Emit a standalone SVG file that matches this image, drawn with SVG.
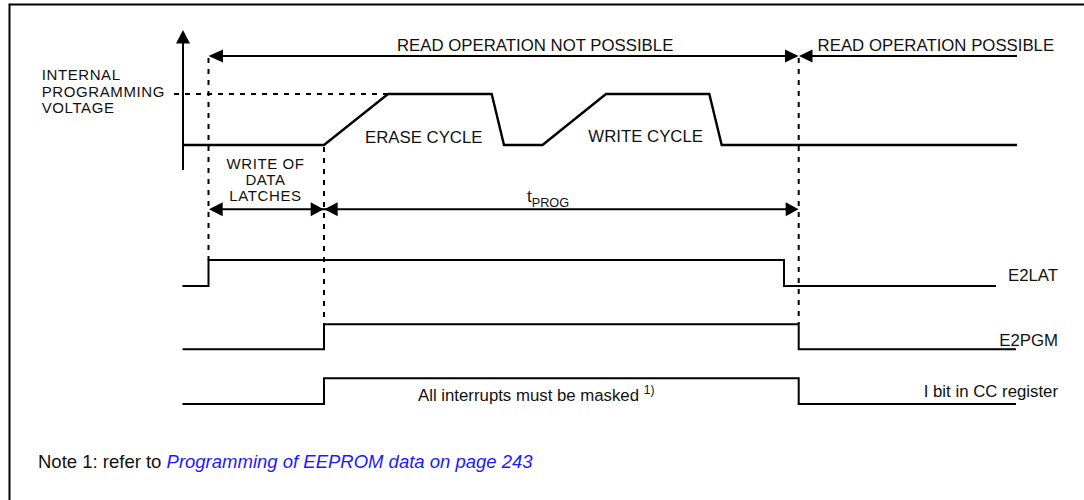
<svg xmlns="http://www.w3.org/2000/svg" width="1084" height="500" viewBox="0 0 1084 500">
<style>
text{font-family:"Liberation Sans",Arial,Helvetica,sans-serif;font-size:16.8px;fill:#111}
.stack{font-size:15px;letter-spacing:0.6px}
.sig{fill:none;stroke:#000;stroke-width:2}
.volt{fill:none;stroke:#000;stroke-width:2.4;stroke-linejoin:miter}
.dash{fill:none;stroke:#000;stroke-width:2;stroke-dasharray:5 6}
.arr{fill:none;stroke:#000;stroke-width:2}
.head{fill:#000}
.frame{fill:none;stroke:#000;stroke-width:2}
.note{font-size:18.5px}
.link{fill:#1a1aff;font-style:italic}
</style>
<rect width="1084" height="500" fill="#fff"/>
<g id="frame">
<polyline class="frame" points="9.5,500 9.5,4.5 1084,4.5"/>
</g>
<g id="axis">
<line class="sig" x1="183" y1="42" x2="183" y2="170"/>
<polygon class="head" points="183,30 176,43.5 190,43.5"/>
<text class="stack" x="41.7" y="80">INTERNAL</text>
<text class="stack" x="41.7" y="96.5">PROGRAMMING</text>
<text class="stack" x="41.7" y="112.5">VOLTAGE</text>
</g>
<g id="voltage">
<polyline class="volt" points="183,145 324,145 388,94 491.7,94 504,145 542.5,145 606,94 709.3,94 721.7,145 1017,145"/>
<text x="365" y="142.7">ERASE CYCLE</text>
<text x="588.3" y="142.3">WRITE CYCLE</text>
</g>
<g id="e2lat">
<polyline class="sig" points="182.5,286 208.5,286 208.5,260 784,260 784,286 996,286"/>
<text x="1058" y="280.7" text-anchor="end">E2LAT</text>
</g>
<g id="e2pgm">
<polyline class="sig" points="182.5,349.3 324,349.3 324,324.3 798.7,324.3 798.7,349.3 1016,349.3"/>
<text x="1058" y="346" text-anchor="end">E2PGM</text>
</g>
<g id="ibit">
<polyline class="sig" points="182.5,404 324,404 324,378.3 798.7,378.3 798.7,404 1016,404"/>
<text x="1058" y="396.7" text-anchor="end">I bit in CC register</text>
<text x="418" y="401">All interrupts must be masked <tspan font-size="12" dy="-7">1)</tspan></text>
</g>
<g id="connectors">
<line class="dash" x1="174" y1="94" x2="388" y2="94"/>
<line class="dash" x1="208.5" y1="58" x2="208.5" y2="260"/>
<line class="dash" x1="324" y1="147" x2="324" y2="324"/>
<line class="dash" x1="798.7" y1="58" x2="798.7" y2="324"/>
<line class="arr" x1="215" y1="56" x2="792" y2="56"/>
<polygon class="head" points="208.5,56 223,49.5 223,62.5"/>
<polygon class="head" points="798.5,56 785,49.5 785,62.5"/>
<line class="arr" x1="806" y1="56" x2="1017" y2="56"/>
<polygon class="head" points="799,56 812.5,49.5 812.5,62.5"/>
<line class="arr" x1="215" y1="209.3" x2="792" y2="209.3"/>
<polygon class="head" points="209,209.3 222.7,202.3 222.7,216.3"/>
<polygon class="head" points="323.6,209.3 310.7,202.3 310.7,216.3"/>
<polygon class="head" points="324.4,209.3 337.7,202.3 337.7,216.3"/>
<polygon class="head" points="798.5,209.3 785.7,202.3 785.7,216.3"/>
</g>
<g id="labels">
<text x="397" y="51">READ OPERATION NOT POSSIBLE</text>
<text x="817.6" y="51">READ OPERATION POSSIBLE</text>
<text class="stack" x="265.5" y="169.3" text-anchor="middle">WRITE OF</text>
<text class="stack" x="265.5" y="185" text-anchor="middle">DATA</text>
<text class="stack" x="265.5" y="201" text-anchor="middle">LATCHES</text>
<text x="527" y="201.5">t<tspan font-size="12.7" dy="5">PROG</tspan></text>
</g>
<g id="note">
<text class="note" x="38" y="468">Note 1: refer to <tspan class="link">Programming of EEPROM data on page 243</tspan></text>
</g>
</svg>
